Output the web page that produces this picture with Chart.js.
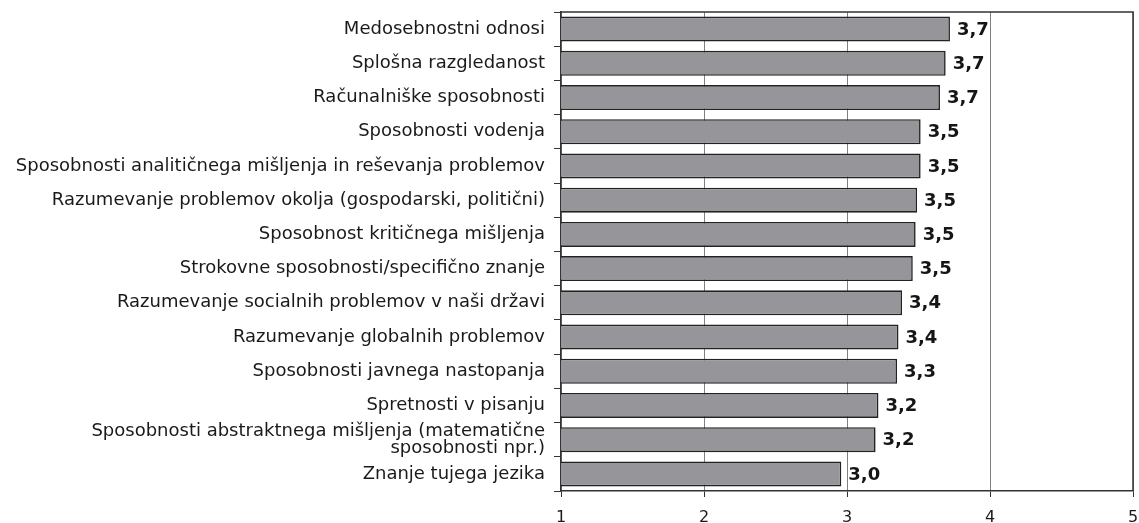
<!DOCTYPE html>
<html>
<head>
<meta charset="utf-8">
<script src="https://cdn.jsdelivr.net/npm/chart.js@4/dist/chart.umd.min.js"></script>
<style>
  html, body { margin: 0; padding: 0; background: #ffffff; }
  #wrap { width: 1139px; height: 523px; }
</style>
</head>
<body>
<div id="wrap"><canvas id="c" width="1139" height="523"></canvas></div>
<script>
const categories = [
  "Medosebnostni odnosi",
  "Splošna razgledanost",
  "Računalniške sposobnosti",
  "Sposobnosti vodenja",
  "Sposobnosti analitičnega mišljenja in reševanja problemov",
  "Razumevanje problemov okolja (gospodarski, politični)",
  "Sposobnost kritičnega mišljenja",
  "Strokovne sposobnosti/specifično znanje",
  "Razumevanje socialnih problemov v naši državi",
  "Razumevanje globalnih problemov",
  "Sposobnosti javnega nastopanja",
  "Spretnosti v pisanju",
  ["Sposobnosti abstraktnega mišljenja (matematične", "sposobnosti npr.)"],
  "Znanje tujega jezika"
];
const values = [3.72, 3.69, 3.65, 3.515, 3.515, 3.49, 3.48, 3.46, 3.385, 3.36, 3.35, 3.22, 3.20, 2.96];
const valueLabels = ["3,7", "3,7", "3,7", "3,5", "3,5", "3,5", "3,5", "3,5", "3,4", "3,4", "3,3", "3,2", "3,2", "3,0"];
const xTicks = [1, 2, 3, 4, 5];

const valueLabelPlugin = {
  id: 'valueLabels',
  afterDatasetsDraw(chart) {
    const ctx = chart.ctx;
    const meta = chart.getDatasetMeta(0);
    ctx.save();
    ctx.font = 'bold 18px "DejaVu Sans"';
    ctx.fillStyle = '#151515';
    ctx.textAlign = 'left';
    ctx.textBaseline = 'middle';
    meta.data.forEach((bar, i) => {
      ctx.fillText(valueLabels[i], bar.x + 7, bar.y + 1);
    });
    ctx.restore();
  }
};

const boxPlugin = {
  id: 'box',
  afterDraw(chart) {
    const a = chart.chartArea;
    const ctx = chart.ctx;
    ctx.save();
    ctx.strokeStyle = '#333333';
    ctx.lineWidth = 1.5;
    ctx.beginPath();
    ctx.moveTo(a.left, a.top);
    ctx.lineTo(a.right, a.top);
    ctx.lineTo(a.right, a.bottom);
    ctx.stroke();
    ctx.restore();
  }
};

function zeroPad(scale) {
  scale.paddingLeft = 0;
  scale.paddingRight = 0;
  scale.paddingTop = 0;
  scale.paddingBottom = 0;
}

new Chart(document.getElementById('c'), {
  type: 'bar',
  data: {
    labels: categories,
    datasets: [{
      data: values,
      backgroundColor: '#95959a',
      borderColor: '#222222',
      borderWidth: 1.6,
      barPercentage: 0.73,
      categoryPercentage: 1.0
    }]
  },
  options: {
    indexAxis: 'y',
    responsive: false,
    animation: false,
    devicePixelRatio: 1,
    layout: { padding: { left: 0, right: 6, top: 12, bottom: 0 } },
    plugins: {
      legend: { display: false },
      tooltip: { enabled: false },
      title: { display: false }
    },
    scales: {
      x: {
        type: 'linear',
        min: 1,
        max: 5,
        afterBuildTicks(scale) { scale.ticks = xTicks.map(v => ({ value: v })); },
        afterFit(scale) { scale.height = 32; zeroPad(scale); },
        ticks: {
          stepSize: 1,
          padding: 11,
          color: '#1a1a1a',
          font: { family: '"DejaVu Sans"', size: 16 },
          maxRotation: 0
        },
        grid: {
          color: '#808080',
          lineWidth: 1,
          tickColor: '#333333',
          tickLength: 6
        },
        border: { display: true, color: '#333333', width: 1.5 }
      },
      y: {
        afterFit(scale) { scale.width = 561; zeroPad(scale); },
        ticks: {
          padding: 9,
          color: '#1a1a1a',
          autoSkip: false,
          font: { family: '"DejaVu Sans"', size: 18, lineHeight: 0.95 }
        },
        grid: {
          display: true,
          drawOnChartArea: false,
          offset: true,
          tickLength: 7,
          tickColor: '#333333'
        },
        border: { display: true, color: '#333333', width: 1.5 }
      }
    }
  },
  plugins: [valueLabelPlugin, boxPlugin]
});
</script>
</body>
</html>
